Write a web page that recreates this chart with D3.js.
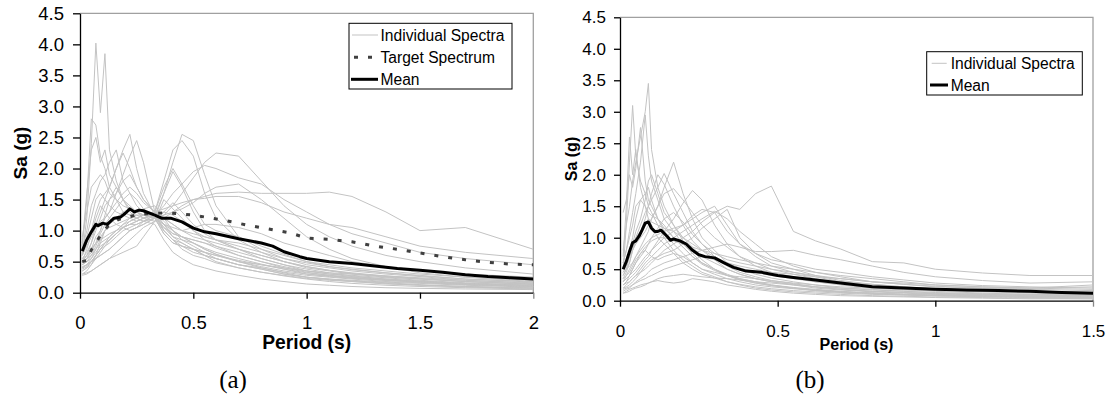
<!DOCTYPE html>
<html><head><meta charset="utf-8">
<script src="https://cdn.jsdelivr.net/npm/d3@7"></script>
<style>
html,body{margin:0;padding:0;background:#fff;}
svg{display:block;}
text{font-family:"Liberation Sans",Arial,sans-serif;}
</style></head>
<body><svg id="c" width="1107" height="397"></svg>
<script>
// ---------- DATA: chart (a) ----------
const periodsA = [0.01,0.03,0.05,0.07,0.09,0.11,0.13,0.16,0.19,0.22,0.25,0.28,0.33,0.37,0.41,0.45,0.5,0.55,0.6,0.7,0.8,0.9,1.0,1.1,1.2,1.35,1.5,1.7,2.0];
const spectraA = [
[0.62,1.2,2.4,4.02,2.9,3.85,2.3,1.8,1.5,1.3,1.2,1.15,1.2,0.95,0.8,0.75,0.7,0.6,0.55,0.45,0.38,0.3,0.25,0.22,0.2,0.17,0.15,0.12,0.09],
[0.75,1.5,2.8,2.7,2.2,2.0,1.7,1.5,1.3,1.25,1.3,1.2,1.25,1.0,0.85,0.8,0.7,0.65,0.6,0.5,0.42,0.35,0.3,0.26,0.23,0.2,0.17,0.14,0.1],
[0.5,0.6,0.8,1.1,1.3,1.5,1.7,2.0,2.3,2.55,2.0,1.6,1.25,1.1,0.9,0.85,0.8,0.7,0.62,0.5,0.45,0.38,0.3,0.27,0.24,0.2,0.18,0.15,0.12],
[0.45,0.55,0.7,0.9,1.0,1.2,1.3,1.6,1.9,2.2,2.45,2.1,1.3,1.0,0.85,0.75,0.7,0.65,0.55,0.45,0.4,0.33,0.28,0.25,0.22,0.18,0.16,0.13,0.1],
[0.4,0.45,0.5,0.6,0.7,0.75,0.8,0.9,1.0,1.05,1.1,1.15,1.2,1.6,2.1,2.55,2.45,1.9,1.4,0.9,0.7,0.55,0.45,0.4,0.35,0.3,0.26,0.2,0.15],
[0.45,0.5,0.55,0.65,0.75,0.8,0.85,0.95,1.05,1.1,1.15,1.2,1.3,1.8,2.3,2.45,2.2,1.6,1.2,0.85,0.65,0.5,0.4,0.35,0.3,0.25,0.22,0.18,0.14],
[0.4,0.45,0.5,0.55,0.6,0.65,0.7,0.8,0.9,1.0,1.05,1.1,1.2,1.25,1.4,1.6,1.85,2.1,2.25,2.2,1.8,1.4,1.1,0.9,0.75,0.6,0.5,0.4,0.3],
[0.3,0.32,0.35,0.4,0.45,0.5,0.55,0.65,0.75,0.85,0.95,1.05,1.15,1.2,1.3,1.4,1.5,1.55,1.6,1.62,1.6,1.6,1.6,1.62,1.55,1.3,1.0,1.05,0.7],
[0.5,0.6,0.7,0.8,0.85,0.9,0.95,1.0,1.05,1.1,1.1,1.15,1.25,1.4,1.6,1.75,1.95,2.05,2.0,1.85,1.75,1.5,1.3,1.1,0.95,0.8,0.65,0.55,0.45],
[0.55,0.6,0.7,0.8,0.9,1.0,1.05,1.1,1.15,1.2,1.25,1.25,1.3,1.35,1.4,1.45,1.5,1.52,1.55,1.55,1.45,1.3,1.2,1.1,1.05,0.9,0.75,0.65,0.55],
[0.7,1.0,1.4,1.6,1.8,1.9,2.1,2.3,1.8,1.6,1.4,1.3,1.2,0.95,0.8,0.75,0.65,0.6,0.55,0.45,0.38,0.3,0.25,0.22,0.19,0.16,0.13,0.1,0.08],
[0.35,0.4,0.5,0.6,0.7,0.8,0.85,0.95,1.05,1.1,1.15,1.2,1.25,1.6,1.95,1.7,1.3,1.0,0.85,0.7,0.55,0.45,0.35,0.3,0.28,0.24,0.2,0.16,0.12],
[0.5,0.55,0.6,0.7,0.8,0.85,0.9,1.0,1.1,1.15,1.2,1.25,1.3,1.7,2.0,1.75,1.4,1.1,1.0,0.9,0.75,0.62,0.5,0.42,0.38,0.32,0.27,0.22,0.17],
[0.28,0.3,0.35,0.4,0.45,0.5,0.55,0.6,0.65,0.7,0.75,0.9,1.15,1.5,1.35,1.2,1.0,0.9,0.85,0.8,0.7,0.6,0.5,0.45,0.4,0.35,0.3,0.25,0.2],
[0.9,1.3,1.7,1.8,1.9,1.8,1.6,1.5,1.4,1.35,1.3,1.25,1.25,1.05,0.9,0.8,0.7,0.6,0.5,0.4,0.33,0.27,0.22,0.18,0.15,0.12,0.1,0.08,0.06],
[0.6,0.8,1.0,1.3,1.5,1.6,1.7,2.0,2.25,2.0,1.7,1.5,1.3,1.2,1.1,1.0,0.9,0.85,0.8,0.7,0.6,0.5,0.42,0.36,0.32,0.27,0.23,0.18,0.14],
[0.8,1.6,2.3,2.5,2.1,2.3,1.9,1.7,1.5,1.4,1.3,1.25,1.2,1.0,0.85,0.7,0.6,0.55,0.48,0.4,0.33,0.28,0.23,0.2,0.18,0.15,0.12,0.1,0.07],
[0.35,0.4,0.45,0.55,0.65,0.75,0.85,0.95,1.05,1.15,1.2,1.25,1.3,1.2,1.1,1.0,0.95,0.9,0.85,0.75,0.65,0.55,0.48,0.42,0.37,0.32,0.28,0.22,0.18],
[0.45,0.5,0.6,0.75,0.95,1.1,1.2,1.35,1.5,1.6,1.5,1.35,1.2,1.05,0.95,0.9,0.85,0.8,0.72,0.6,0.5,0.42,0.35,0.3,0.26,0.22,0.19,0.15,0.11],
[0.55,0.65,0.8,1.0,1.2,1.4,1.5,1.6,1.8,1.9,1.7,1.5,1.3,1.1,1.0,0.9,0.8,0.72,0.65,0.55,0.46,0.38,0.32,0.28,0.25,0.21,0.18,0.14,0.1],
[0.4,0.45,0.55,0.7,0.85,1.0,1.1,1.2,1.3,1.35,1.3,1.25,1.2,1.1,1.05,1.0,1.05,1.1,1.1,1.05,0.95,0.8,0.7,0.6,0.5,0.42,0.36,0.3,0.25],
[0.5,0.7,0.95,1.2,1.4,1.3,1.2,1.1,1.05,1.0,1.05,1.15,1.25,1.3,1.25,1.15,1.0,0.85,0.75,0.6,0.5,0.4,0.33,0.28,0.24,0.2,0.17,0.13,0.1],
[0.38,0.42,0.5,0.6,0.7,0.8,0.9,1.0,1.1,1.2,1.3,1.35,1.4,1.2,1.0,0.85,0.75,0.65,0.6,0.52,0.45,0.4,0.35,0.32,0.3,0.27,0.24,0.2,0.16],
[0.65,0.9,1.2,1.5,1.6,1.5,1.4,1.3,1.25,1.2,1.15,1.2,1.25,1.1,0.95,0.9,0.85,0.8,0.75,0.65,0.55,0.45,0.38,0.32,0.27,0.22,0.18,0.14,0.1],
[0.42,0.45,0.5,0.55,0.6,0.65,0.7,0.8,0.9,1.0,1.05,1.1,1.2,1.25,1.3,1.35,1.45,1.6,1.7,1.75,1.5,1.2,0.9,0.7,0.55,0.42,0.32,0.25,0.18],
[0.6,0.75,0.9,1.05,1.15,1.2,1.3,1.45,1.6,1.7,1.6,1.45,1.3,1.15,1.0,0.9,0.8,0.7,0.62,0.5,0.4,0.32,0.25,0.21,0.18,0.14,0.12,0.09,0.07],
[0.3,0.35,0.45,0.6,0.8,1.0,1.1,1.2,1.3,1.25,1.2,1.15,1.1,0.85,0.65,0.55,0.45,0.4,0.35,0.28,0.22,0.18,0.14,0.12,0.1,0.08,0.07,0.06,0.05],
[0.48,0.55,0.65,0.8,1.0,1.25,1.5,1.7,1.5,1.35,1.25,1.2,1.15,1.3,1.45,1.3,1.1,0.95,0.85,0.7,0.6,0.5,0.42,0.36,0.31,0.26,0.22,0.18,0.13]
];
const targetT = [0.01,0.03,0.05,0.085,0.12,0.17,0.26,0.38,0.5,0.63,0.75,0.87,0.93,1.0,1.1,1.2,1.3,1.4,1.5,1.6,1.7,1.8,1.9,2.0];
const targetSa = [0.5,0.52,0.69,0.89,1.06,1.18,1.26,1.29,1.25,1.17,1.08,1.0,0.96,0.88,0.86,0.82,0.75,0.7,0.64,0.58,0.53,0.49,0.46,0.45];
const meanTA = [0.01,0.03,0.05,0.07,0.08,0.1,0.12,0.15,0.18,0.2,0.22,0.24,0.26,0.28,0.33,0.36,0.4,0.45,0.5,0.55,0.6,0.7,0.8,0.85,0.9,0.97,1.0,1.1,1.2,1.3,1.4,1.5,1.6,1.7,1.8,1.9,2.0];
const meanSaA = [0.67,0.85,0.98,1.1,1.08,1.12,1.1,1.2,1.22,1.28,1.35,1.3,1.33,1.32,1.25,1.2,1.2,1.14,1.04,0.98,0.95,0.87,0.8,0.75,0.66,0.58,0.55,0.5,0.47,0.43,0.39,0.36,0.33,0.29,0.26,0.24,0.22];
const xTicksA = [0,0.5,1,1.5,2];

// ---------- DATA: chart (b) ----------
const periodsB = [0.01,0.02,0.03,0.04,0.05,0.065,0.08,0.09,0.1,0.12,0.14,0.17,0.2,0.23,0.26,0.3,0.34,0.38,0.43,0.48,0.55,0.62,0.7,0.8,0.9,1.0,1.15,1.3,1.5];
const spectraB = [
[0.8,1.2,1.5,1.9,2.2,2.6,3.0,3.45,2.4,1.8,1.5,1.2,0.95,0.8,0.65,0.5,0.4,0.33,0.28,0.24,0.2,0.16,0.13,0.11,0.09,0.08,0.06,0.05,0.04],
[0.5,1.2,2.2,3.1,2.3,1.9,1.7,1.5,1.4,1.2,1.0,0.8,0.65,0.55,0.45,0.38,0.3,0.25,0.2,0.17,0.14,0.12,0.1,0.08,0.07,0.06,0.05,0.04,0.03],
[0.6,0.8,1.1,1.4,1.7,2.2,2.95,2.3,1.9,1.6,1.3,1.1,0.9,0.75,0.6,0.5,0.42,0.35,0.3,0.25,0.21,0.18,0.15,0.12,0.1,0.09,0.07,0.06,0.05],
[1.4,1.6,2.0,1.8,2.1,2.75,1.9,1.6,1.5,1.3,1.15,1.0,0.85,0.7,0.6,0.5,0.4,0.35,0.3,0.25,0.2,0.17,0.14,0.12,0.1,0.08,0.07,0.06,0.05],
[0.7,1.5,2.6,2.0,2.4,1.8,1.5,1.3,1.2,1.0,0.9,0.75,0.6,0.5,0.42,0.36,0.3,0.26,0.22,0.19,0.16,0.14,0.12,0.1,0.09,0.08,0.07,0.06,0.05],
[0.3,0.4,0.5,0.6,0.7,0.85,1.0,1.1,1.3,1.5,1.8,2.2,1.7,1.3,1.0,0.8,0.6,0.5,0.42,0.36,0.3,0.25,0.2,0.17,0.15,0.13,0.11,0.1,0.08],
[0.4,0.5,0.6,0.8,1.0,1.2,1.4,1.5,1.6,1.8,2.02,1.7,1.4,1.1,0.9,0.7,0.55,0.45,0.38,0.32,0.27,0.22,0.18,0.15,0.13,0.11,0.09,0.08,0.07],
[0.35,0.45,0.6,0.8,0.95,1.1,1.3,1.5,1.7,2.0,1.85,1.5,1.2,0.95,0.8,0.65,0.5,0.42,0.35,0.3,0.25,0.2,0.17,0.14,0.12,0.1,0.08,0.07,0.06],
[0.25,0.3,0.35,0.4,0.45,0.55,0.65,0.7,0.8,0.95,1.1,1.3,1.55,1.75,1.6,1.2,0.9,0.7,0.55,0.45,0.38,0.3,0.25,0.2,0.17,0.15,0.12,0.1,0.09],
[0.3,0.35,0.4,0.45,0.5,0.6,0.7,0.75,0.8,0.9,1.0,1.1,1.2,1.3,1.4,1.5,1.2,0.9,0.7,0.55,0.45,0.38,0.3,0.26,0.22,0.19,0.16,0.14,0.12],
[0.2,0.25,0.3,0.35,0.4,0.45,0.5,0.55,0.6,0.7,0.8,0.9,1.0,1.1,1.25,1.4,1.5,1.45,1.7,1.82,1.1,0.95,0.82,0.62,0.6,0.5,0.44,0.4,0.4],
[0.45,0.5,0.55,0.6,0.7,0.8,0.9,0.95,1.0,1.05,1.1,1.15,1.2,1.35,1.45,1.4,1.1,0.9,0.75,0.65,0.58,0.5,0.45,0.38,0.33,0.28,0.24,0.22,0.2],
[0.5,0.6,0.7,0.8,0.9,1.0,1.1,1.2,1.3,1.5,1.7,1.78,1.6,1.4,1.2,1.0,0.85,0.7,0.6,0.5,0.42,0.35,0.3,0.25,0.21,0.18,0.15,0.13,0.11],
[0.15,0.18,0.2,0.25,0.3,0.35,0.4,0.45,0.5,0.55,0.6,0.65,0.7,0.75,0.8,0.85,0.9,0.85,0.78,0.78,0.8,0.72,0.65,0.55,0.45,0.38,0.32,0.28,0.3],
[0.12,0.15,0.18,0.2,0.22,0.25,0.27,0.28,0.3,0.32,0.3,0.28,0.3,0.35,0.33,0.3,0.25,0.22,0.18,0.15,0.12,0.1,0.08,0.07,0.06,0.05,0.04,0.03,0.03],
[0.25,0.3,0.4,0.5,0.6,0.7,0.8,0.9,0.95,1.0,1.0,0.95,0.9,0.85,0.8,0.75,0.7,0.65,0.6,0.55,0.5,0.45,0.4,0.35,0.3,0.25,0.22,0.2,0.25],
[0.6,0.8,1.0,1.2,1.5,1.6,1.7,1.8,1.6,1.3,1.1,0.9,0.75,0.6,0.5,0.42,0.35,0.3,0.25,0.22,0.19,0.16,0.14,0.12,0.1,0.09,0.08,0.07,0.06],
[0.4,0.5,0.7,0.9,1.1,1.3,1.6,1.9,2.0,1.7,1.4,1.2,1.0,0.85,0.7,0.6,0.5,0.42,0.35,0.3,0.26,0.22,0.18,0.15,0.13,0.11,0.1,0.09,0.08],
[0.2,0.22,0.25,0.3,0.35,0.45,0.55,0.6,0.65,0.7,0.75,0.8,0.9,1.0,1.15,1.3,1.45,1.0,0.75,0.6,0.5,0.4,0.32,0.26,0.22,0.18,0.15,0.13,0.12],
[0.3,0.35,0.4,0.5,0.6,0.75,0.8,0.75,0.7,0.65,0.7,0.75,0.7,0.6,0.5,0.45,0.4,0.38,0.35,0.32,0.28,0.25,0.22,0.2,0.18,0.16,0.14,0.12,0.1],
[0.45,0.55,0.7,0.85,1.0,1.1,1.2,1.3,1.25,1.2,1.15,1.1,1.0,0.9,0.8,0.7,0.6,0.52,0.45,0.4,0.35,0.3,0.26,0.22,0.2,0.18,0.16,0.15,0.14],
[0.12,0.13,0.15,0.18,0.2,0.22,0.25,0.28,0.3,0.35,0.38,0.4,0.42,0.4,0.38,0.36,0.35,0.33,0.3,0.28,0.25,0.22,0.2,0.18,0.15,0.12,0.1,0.09,0.08],
[0.55,0.65,0.8,1.0,1.3,1.6,1.5,1.4,1.35,1.3,1.2,1.0,0.85,0.7,0.58,0.48,0.4,0.34,0.28,0.24,0.2,0.17,0.14,0.12,0.1,0.08,0.07,0.06,0.05],
[0.25,0.28,0.3,0.35,0.4,0.5,0.6,0.65,0.7,0.8,0.9,1.0,1.1,1.2,1.3,1.42,1.3,1.1,0.9,0.7,0.55,0.45,0.38,0.3,0.26,0.22,0.2,0.2,0.22],
[0.35,0.4,0.45,0.55,0.65,0.75,0.85,0.9,1.0,1.15,1.3,1.4,1.25,1.05,0.9,0.75,0.65,0.6,0.55,0.5,0.45,0.4,0.35,0.3,0.26,0.23,0.2,0.18,0.16],
[0.18,0.2,0.22,0.25,0.28,0.32,0.35,0.38,0.4,0.45,0.5,0.55,0.6,0.65,0.7,0.65,0.6,0.55,0.5,0.45,0.42,0.38,0.35,0.3,0.28,0.25,0.22,0.2,0.18]
];
const meanTB = [0.01,0.02,0.03,0.04,0.05,0.06,0.07,0.08,0.09,0.1,0.11,0.12,0.13,0.15,0.16,0.17,0.19,0.21,0.23,0.25,0.27,0.3,0.33,0.36,0.4,0.45,0.5,0.55,0.6,0.7,0.8,0.9,1.0,1.1,1.2,1.3,1.4,1.5];
const meanSaB = [0.5,0.62,0.78,0.92,0.95,1.02,1.12,1.23,1.25,1.15,1.1,1.1,1.12,1.02,0.96,0.98,0.95,0.9,0.8,0.73,0.7,0.68,0.6,0.53,0.47,0.45,0.4,0.37,0.34,0.28,0.22,0.2,0.18,0.17,0.16,0.15,0.13,0.12];
const xTicksB = [0,0.5,1,1.5];
const yTicks = [0,0.5,1,1.5,2,2.5,3,3.5,4,4.5];

// ---------- DRAW ----------
const svg = d3.select("#c");

function panel(cfg){
  const g = svg.append("g");
  const x = d3.scaleLinear().domain(cfg.xDomain).range([cfg.x0, cfg.x1]);
  const y = d3.scaleLinear().domain([0,4.5]).range([cfg.y1, cfg.y0]);
  const clipId = "clip"+cfg.id;
  svg.append("clipPath").attr("id",clipId).append("rect")
    .attr("x",cfg.x0).attr("y",cfg.y0).attr("width",cfg.x1-cfg.x0).attr("height",cfg.y1-cfg.y0);

  g.append("path").attr("d",`M${cfg.x0},${cfg.y0}H${cfg.x1}V${cfg.y1}`)
    .attr("fill","none").attr("stroke","#a0a0a0").attr("stroke-width",1.3);

  const plot = g.append("g").attr("clip-path",`url(#${clipId})`);
  const line = d3.line().x(d=>x(d[0])).y(d=>y(d[1]));
  cfg.spectra.forEach(s=>{
    plot.append("path").datum(cfg.periods.map((t,i)=>[t,s[i]]))
      .attr("d",line).attr("fill","none").attr("stroke","#c3c3c3").attr("stroke-width",1);
  });
  if(cfg.targetT){
    plot.append("path").datum(cfg.targetT.map((t,i)=>[t,cfg.targetSa[i]]))
      .attr("d",line).attr("fill","none").attr("stroke","#404040").attr("stroke-width",3)
      .attr("stroke-dasharray","4,10");
  }
  plot.append("path").datum(cfg.meanT.map((t,i)=>[t,cfg.meanSa[i]]))
    .attr("d",line).attr("fill","none").attr("stroke","#000").attr("stroke-width",3)
    .attr("stroke-linejoin","round");

  const ya = g.append("g").attr("transform",`translate(${cfg.x0},0)`)
    .call(d3.axisLeft(y).tickValues(yTicks).tickFormat(d3.format(".1f")).tickSize(cfg.tickY).tickSizeOuter(0).tickPadding(cfg.padY));
  const xa = g.append("g").attr("transform",`translate(0,${cfg.y1})`)
    .call(d3.axisBottom(x).tickValues(cfg.xTicks).tickFormat(d3.format("~g")).tickSize(6).tickSizeOuter(0).tickPadding(cfg.padX));
  [ya,xa].forEach(a=>{
    a.select(".domain").attr("stroke","#000").attr("stroke-width",1.3);
    a.selectAll(".tick line").attr("stroke","#000").attr("stroke-width",1.3);
    a.selectAll(".tick text").attr("fill","#000").style("font-family","'Liberation Sans',Arial,sans-serif").style("font-size",cfg.tickFont+"px");
  });
  xa.select(".tick:last-of-type line").attr("stroke","#888");

  g.append("text").attr("x",(cfg.x0+cfg.x1)/2).attr("y",cfg.xTitleY).attr("text-anchor","middle")
    .style("font-weight","bold").style("font-size",cfg.titleFont+"px").text("Period (s)");
  g.append("text").attr("transform",`translate(${cfg.yTitleX},${(cfg.y0+cfg.y1)/2}) rotate(-90)`)
    .attr("text-anchor","middle").attr("dy","0.35em")
    .style("font-weight","bold").style("font-size",cfg.yTitleFont+"px").text("Sa (g)");

  g.append("text").attr("x",cfg.capX).attr("y",388).attr("text-anchor","middle")
    .style("font-family","'Liberation Serif','Times New Roman',serif").style("font-size","25px").text(cfg.caption);

  const L = cfg.legend;
  g.append("rect").attr("x",L.x).attr("y",L.y).attr("width",L.w).attr("height",L.h)
    .attr("fill","#fff").attr("stroke","#000").attr("stroke-width",1);
  L.items.forEach((it,i)=>{
    const cy = L.rowY[i];
    const ln = g.append("line").attr("x1",it.x1).attr("x2",it.x2).attr("y1",cy).attr("y2",cy)
      .attr("stroke",it.color).attr("stroke-width",it.w);
    if(it.dash) ln.attr("stroke-dasharray",it.dash);
    g.append("text").attr("x",L.textX).attr("y",cy).attr("dy","0.36em")
      .style("font-size","15.6px").attr("fill","#000").text(it.label);
  });
}

panel({
  id:"a", xDomain:[0,2], x0:80, x1:533.3, y0:13.3, y1:292.7,
  periods:periodsA, spectra:spectraA, targetT:targetT, targetSa:targetSa,
  meanT:meanTA, meanSa:meanSaA, xTicks:xTicksA,
  tickY:7, padY:9, padX:17, tickFont:18.5, titleFont:19.3, yTitleFont:19, xTitleY:349, yTitleX:20,
  caption:"(a)", capX:233,
  legend:{x:349,y:23.3,w:163,h:65.7,textX:380.5,rowY:[35,57.3,79.3],items:[
    {label:"Individual Spectra",color:"#c3c3c3",w:1,x1:352,x2:378},
    {label:"Target Spectrum",color:"#404040",w:3,x1:354,x2:374,dash:"4,10"},
    {label:"Mean",color:"#000",w:3,x1:351,x2:378}
  ]}
});

panel({
  id:"b", xDomain:[0,1.5], x0:620, x1:1093, y0:17.3, y1:300.7,
  periods:periodsB, spectra:spectraB, meanT:meanTB, meanSa:meanSaB, xTicks:xTicksB,
  tickY:6, padY:8, padX:18, tickFont:17, titleFont:16, yTitleFont:16, xTitleY:350, yTitleX:571,
  caption:"(b)", capX:810,
  legend:{x:926.7,y:51.7,w:155.6,h:43.3,textX:950.7,rowY:[63.3,85],items:[
    {label:"Individual Spectra",color:"#c3c3c3",w:1,x1:931.7,x2:946.7},
    {label:"Mean",color:"#000",w:3,x1:930,x2:948}
  ]}
});
</script>
</body></html>
